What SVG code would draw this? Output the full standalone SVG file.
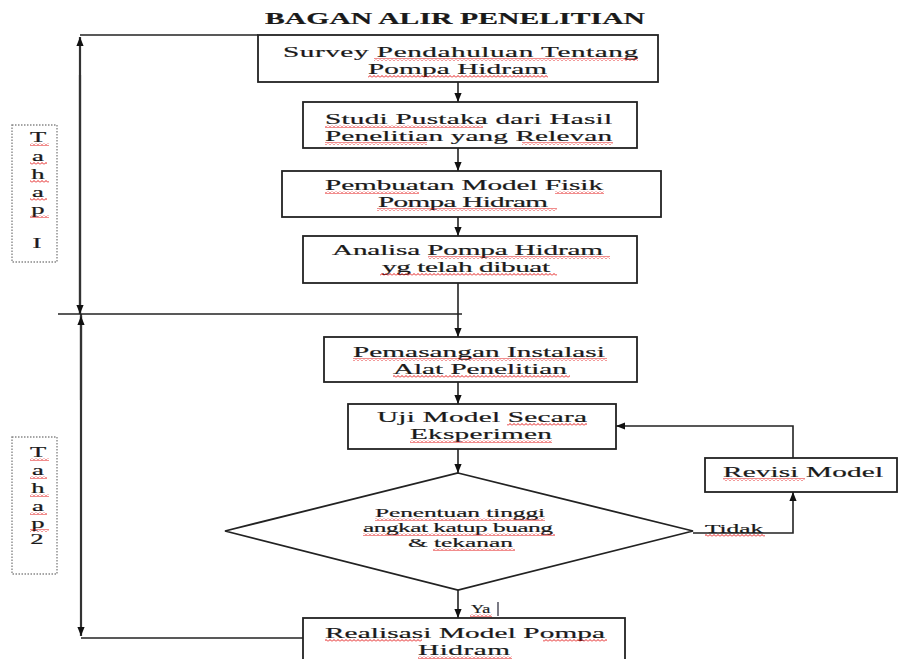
<svg xmlns="http://www.w3.org/2000/svg" width="898" height="659" viewBox="0 0 898 659">
<style>
.box{fill:#fff;stroke:#222;stroke-width:1.8}
.ln{fill:none;stroke:#222;stroke-width:1.6}
.br{fill:none;stroke:#333;stroke-width:2.2}
.dot{fill:#fff;stroke:#888;stroke-width:1.4;stroke-dasharray:1.5 1.5}
text{font-family:"Liberation Serif","Times New Roman",serif;fill:#1a1a1a;font-size:15px;stroke:#1a1a1a;stroke-width:0.2}
.sm{font-size:13px}
.tt{font-weight:bold;font-size:16px}
.ld{text-anchor:middle;font-size:14px}
.w{fill:url(#wave)}
</style>
<defs>
<marker id="ah" viewBox="0 0 10 10" refX="10" refY="5" markerWidth="9" markerHeight="9" markerUnits="userSpaceOnUse" orient="auto-start-reverse">
<path d="M0,1 L10,5 L0,9 z" fill="#111"/>
</marker>
<pattern id="wave" patternUnits="userSpaceOnUse" x="0" y="0" width="4" height="3">
<path d="M0,2.5 L2,0.5 L4,2.5" fill="none" stroke="#e00000" stroke-width="0.9"/>
</pattern>
</defs>

<text class="tt" transform="translate(265,24) scale(1.85,1)" textLength="205.4" lengthAdjust="spacing">BAGAN ALIR PENELITIAN</text>

<g id="connectors">
<path class="br" d="M80,314 V37" marker-end="url(#ah)"/>
<path class="br" d="M80,75 V314" marker-end="url(#ah)"/>
<path class="br" d="M81,314 V636" marker-end="url(#ah)"/>
<path class="br" d="M81,400 V316" marker-end="url(#ah)"/>
<path class="ln" d="M80,35 H258"/>
<path class="ln" d="M58,314 H462"/>
<path class="ln" d="M81,638 H303"/>
<path class="ln" d="M458,82 V102" marker-end="url(#ah)"/>
<path class="ln" d="M458,148 V171" marker-end="url(#ah)"/>
<path class="ln" d="M458,217 V236" marker-end="url(#ah)"/>
<path class="ln" d="M458,283 V337" marker-end="url(#ah)"/>
<path class="ln" d="M458,382 V404" marker-end="url(#ah)"/>
<path class="ln" d="M458,449 V473" marker-end="url(#ah)"/>
<path class="ln" d="M458,590 V618" marker-end="url(#ah)"/>
<path class="ln" d="M693,533 H793 V492" marker-end="url(#ah)"/>
<path class="ln" d="M793,458 V426 H616" marker-end="url(#ah)"/>
<path d="M498,602 V616" stroke="#223" stroke-width="1.2"/>
</g>

<g id="tahap1">
<rect class="dot" x="12" y="125" width="45" height="137"/>
<text class="ld" transform="translate(38,142) scale(1.9,1)">T</text>
<text class="ld" transform="translate(38,161) scale(1.9,1)">a</text>
<text class="ld" transform="translate(38,179) scale(1.9,1)">h</text>
<text class="ld" transform="translate(38,197) scale(1.9,1)">a</text>
<text class="ld" transform="translate(38,214) scale(1.9,1)">p</text>
<text class="ld" transform="translate(37,248) scale(1.9,1)">I</text>
<rect class="w" x="30" y="143" width="19" height="3"/>
<rect class="w" x="30" y="162" width="17" height="3"/>
<rect class="w" x="30" y="180" width="19" height="3"/>
<rect class="w" x="30" y="198" width="17" height="3"/>
<rect class="w" x="30" y="215" width="19" height="3"/>
</g>

<g id="tahap2">
<rect class="dot" x="12" y="437" width="45" height="137"/>
<text class="ld" transform="translate(38,457) scale(1.9,1)">T</text>
<text class="ld" transform="translate(38,475) scale(1.9,1)">a</text>
<text class="ld" transform="translate(38,493) scale(1.9,1)">h</text>
<text class="ld" transform="translate(38,511) scale(1.9,1)">a</text>
<text class="ld" transform="translate(38,528) scale(1.9,1)">p</text>
<text class="ld" transform="translate(37,544) scale(1.9,1)">2</text>
<rect class="w" x="30" y="458" width="19" height="3"/>
<rect class="w" x="30" y="476" width="17" height="3"/>
<rect class="w" x="30" y="494" width="19" height="3"/>
<rect class="w" x="30" y="512" width="17" height="3"/>
<rect class="w" x="30" y="529" width="19" height="3"/>
</g>

<g id="n1">
<rect class="box" x="258" y="35" width="400" height="47"/>
<text transform="translate(283,57) scale(1.95,1)" textLength="182.1" lengthAdjust="spacing">Survey Pendahuluan Tentang</text>
<text transform="translate(368,74) scale(1.95,1)" textLength="91.8" lengthAdjust="spacing">Pompa Hidram</text>
<rect class="w" x="374" y="58" width="264" height="3"/>
<rect class="w" x="368" y="75" width="180" height="3"/>
</g>

<g id="n2">
<rect class="box" x="303" y="102" width="334" height="46"/>
<text transform="translate(325,124) scale(1.95,1)" textLength="147.2" lengthAdjust="spacing">Studi Pustaka dari Hasil</text>
<text transform="translate(325,141) scale(1.95,1)" textLength="147.2" lengthAdjust="spacing">Penelitian yang Relevan</text>
<rect class="w" x="325" y="125" width="158" height="3"/>
<rect class="w" x="325" y="142" width="102" height="3"/>
<rect class="w" x="522" y="142" width="91" height="3"/>
</g>

<g id="n3">
<rect class="box" x="282" y="171" width="379" height="46"/>
<text transform="translate(325,190) scale(1.95,1)" textLength="142.6" lengthAdjust="spacing">Pembuatan Model Fisik</text>
<text transform="translate(378,207) scale(1.95,1)" textLength="87.2" lengthAdjust="spacing">Pompa Hidram</text>
<rect class="w" x="325" y="191" width="94" height="3"/>
<rect class="w" x="555" y="191" width="49" height="3"/>
<rect class="w" x="377" y="208" width="180" height="3"/>
</g>

<g id="n4">
<rect class="box" x="303" y="236" width="334" height="47"/>
<text transform="translate(332,255) scale(1.95,1)" textLength="139" lengthAdjust="spacing">Analisa Pompa Hidram</text>
<text transform="translate(382,272) scale(1.95,1)" textLength="86.2" lengthAdjust="spacing">yg telah dibuat</text>
<rect class="w" x="428" y="256" width="182" height="3"/>
<rect class="w" x="380" y="273" width="177" height="3"/>
</g>

<g id="n5">
<rect class="box" x="324" y="337" width="313" height="45"/>
<text transform="translate(353,357) scale(1.95,1)" textLength="129.2" lengthAdjust="spacing">Pemasangan Instalasi</text>
<text transform="translate(393,374) scale(1.95,1)" textLength="89.2" lengthAdjust="spacing">Alat Penelitian</text>
<rect class="w" x="353" y="358" width="254" height="3"/>
<rect class="w" x="393" y="375" width="177" height="3"/>
</g>

<g id="n6">
<rect class="box" x="348" y="404" width="268" height="45"/>
<text transform="translate(377,422) scale(1.95,1)" textLength="107.7" lengthAdjust="spacing">Uji Model Secara</text>
<text transform="translate(410,439) scale(1.95,1)" textLength="72.8" lengthAdjust="spacing">Eksperimen</text>
<rect class="w" x="507" y="423" width="80" height="3"/>
<rect class="w" x="410" y="440" width="142" height="3"/>
</g>

<g id="n7">
<polygon class="box" points="458,473 693,531 458,590 225,531"/>
<text class="sm" transform="translate(375,517) scale(1.95,1)" textLength="87.2" lengthAdjust="spacing">Penentuan tinggi</text>
<text class="sm" transform="translate(363,532) scale(1.95,1)" textLength="97.4" lengthAdjust="spacing">angkat katup buang</text>
<text class="sm" transform="translate(408,547) scale(1.95,1)" textLength="53.8" lengthAdjust="spacing">&amp; tekanan</text>
<rect class="w" x="375" y="518" width="170" height="3"/>
<rect class="w" x="363" y="533" width="192" height="3"/>
<rect class="w" x="433" y="548" width="82" height="3"/>
</g>

<g id="n8">
<rect class="box" x="705" y="458" width="192" height="34"/>
<text transform="translate(723,477) scale(1.95,1)" textLength="82.1" lengthAdjust="spacing">Revisi Model</text>
<rect class="w" x="723" y="478" width="82" height="3"/>
</g>

<g id="n9">
<rect class="box" x="303" y="618" width="322" height="50"/>
<text transform="translate(325,638) scale(1.95,1)" textLength="143.6" lengthAdjust="spacing">Realisasi Model Pompa</text>
<text transform="translate(418,655) scale(1.95,1)" textLength="47.2" lengthAdjust="spacing">Hidram</text>
<rect class="w" x="325" y="639" width="97" height="3"/>
<rect class="w" x="543" y="639" width="64" height="3"/>
<rect class="w" x="418" y="656" width="94" height="3"/>
</g>

<g id="labels">
<text class="sm" transform="translate(705,533) scale(1.95,1)">Tidak</text>
<text class="sm" transform="translate(471,613) scale(1.4,1)">Ya</text>
<rect class="w" x="705" y="534" width="60" height="3"/>
<rect class="w" x="470" y="614" width="22" height="3"/>
</g>
</svg>
